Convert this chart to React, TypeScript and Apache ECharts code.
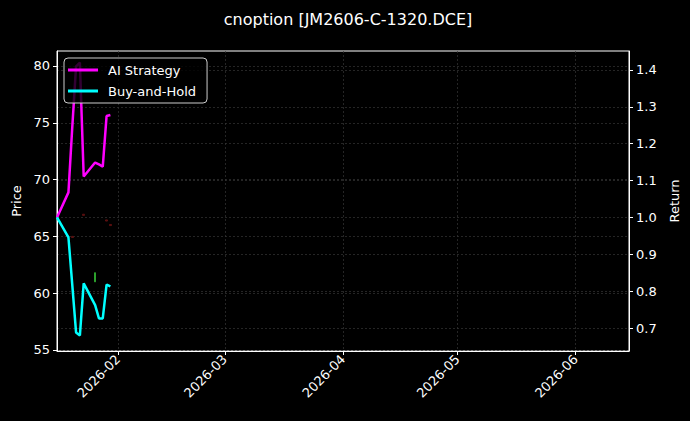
import React, { useEffect, useRef } from "react";
import * as echarts from "echarts";

const titleText = "cnoption [JM2606-C-1320.DCE]";
const dates = ["2026-01-16", "2026-01-19", "2026-01-20", "2026-01-21", "2026-01-22", "2026-01-23", "2026-01-26", "2026-01-27", "2026-01-28", "2026-01-29", "2026-01-30"];
const aiStrategy = [1.0, 1.068, 1.244, 1.41, 1.42, 1.111, 1.149, 1.144, 1.138, 1.275, 1.278];
const buyHold = [1.0, 0.946, 0.818, 0.688, 0.68, 0.821, 0.762, 0.726, 0.726, 0.818, 0.813];
// candles: [date, open, close, low, high]
const candleDates = ["2026-01-20", "2026-01-23", "2026-01-26", "2026-01-29", "2026-01-30"];
const candleOpen = [65.0, 66.95, 61.0, 66.45, 66.05];
const candleClose = [64.9, 66.85, 61.8, 66.35, 65.95];
const candleLow = [64.9, 66.85, 61.0, 66.35, 65.95];
const candleHigh = [65.0, 66.95, 61.8, 66.45, 66.05];
const monthTicks = ["2026-02-01", "2026-03-01", "2026-04-01", "2026-05-01", "2026-06-01"];
const priceTicks = [55, 60, 65, 70, 75, 80];
const returnTicks = [0.7, 0.8, 0.9, 1.0, 1.1, 1.2, 1.3, 1.4];

const toTs = (s: string) => {
  const [y, m, d] = s.split("-").map(Number);
  return new Date(y, m - 1, d).getTime();
};

const FONT = "DejaVu Sans";
const grid = { color: "#353535", type: [2, 2] as any, width: 0.7 };

export default function App() {
  const ref = useRef<HTMLDivElement>(null);
  useEffect(() => {
    document.body.style.margin = "0";
    document.body.style.background = "#000";
    const chart = echarts.init(ref.current!, null, { renderer: "svg" });
    const tickTs = monthTicks.map(toTs);
    chart.setOption({
      animation: false,
      backgroundColor: "#000",
      textStyle: { fontFamily: FONT },
      title: {
        text: titleText,
        left: 343,
        textAlign: "center",
        top: 6,
        textStyle: { color: "#fff", fontSize: 16, fontWeight: "normal", fontFamily: FONT },
      },
      legend: {
        data: ["AI Strategy", "Buy-and-Hold"],
        orient: "vertical",
        left: 64,
        top: 58,
        padding: [4, 11, 4, 4],
        itemWidth: 30,
        itemHeight: 3,
        itemGap: 5,
        icon: "rect",
        backgroundColor: "rgba(0,0,0,0.8)",
        borderColor: "#cccccc",
        borderWidth: 1,
        borderRadius: 4,
        textStyle: { color: "#fff", fontSize: 13, fontFamily: FONT, lineHeight: 16, padding: [0, 0, 0, 5] },
      },
      grid: {
        left: 57,
        right: 61,
        top: 51,
        bottom: 70,
        show: true,
        borderColor: "#fff",
        borderWidth: 1,
        backgroundColor: "#000",
      },
      xAxis: {
        type: "value",
        min: toTs("2026-01-16"),
        max: toTs("2026-06-15"),
        axisLine: { lineStyle: { color: "#fff" } },
        axisTick: { show: true, length: 4, lineStyle: { color: "#fff" }, customValues: tickTs },
        axisLabel: {
          customValues: tickTs,
          color: "#fff",
          fontSize: 13,
          fontFamily: FONT,
          rotate: 45,
          margin: 6,
          formatter: (v: number) => {
            const d = new Date(v);
            return d.getFullYear() + "-" + String(d.getMonth() + 1).padStart(2, "0");
          },
        },
        splitLine: { show: true, lineStyle: grid },
      },
      yAxis: [
        {
          type: "value",
          name: "Price",
          nameLocation: "middle",
          nameGap: 34,
          nameTextStyle: { color: "#fff", fontSize: 13, fontFamily: FONT },
          min: 54.91,
          max: 81.32,
          axisLine: { show: true, lineStyle: { color: "#fff" } },
          axisTick: { show: true, length: 4, lineStyle: { color: "#fff" }, customValues: priceTicks },
          axisLabel: { customValues: priceTicks, color: "#fff", fontSize: 13, fontFamily: FONT, margin: 7 },
          splitLine: { show: true, lineStyle: grid },
        },
        {
          type: "value",
          name: "Return",
          nameLocation: "middle",
          nameGap: 38,
          nameTextStyle: { color: "#fff", fontSize: 13, fontFamily: FONT },
          min: 0.6377,
          max: 1.4515,
          position: "right",
          axisLine: { show: true, lineStyle: { color: "#fff" } },
          axisTick: { show: true, length: 4, lineStyle: { color: "#fff" }, customValues: returnTicks },
          axisLabel: {
            customValues: returnTicks,
            color: "#fff",
            fontSize: 13,
            fontFamily: FONT,
            margin: 7,
            formatter: (v: number) => v.toFixed(1),
          },
          splitLine: { show: true, lineStyle: grid },
        },
      ],
      series: [
        {
          name: "Price",
          type: "candlestick",
          yAxisIndex: 0,
          barWidth: 2,
          itemStyle: {
            color: "#2ca02c",
            color0: "#5a1010",
            borderColor: "#2ca02c",
            borderColor0: "#5a1010",
            borderWidth: 1,
          },
          data: candleDates.map((d, i) => [toTs(d), candleOpen[i], candleClose[i], candleLow[i], candleHigh[i]]),
        },
        {
          name: "AI Strategy",
          type: "line",
          yAxisIndex: 1,
          showSymbol: false,
          color: "#ff00ff",
          lineStyle: { width: 2.5, color: "#ff00ff" },
          data: dates.map((d, i) => [toTs(d), aiStrategy[i]]),
        },
        {
          name: "Buy-and-Hold",
          type: "line",
          yAxisIndex: 1,
          showSymbol: false,
          color: "#00ffff",
          lineStyle: { width: 2.5, color: "#00ffff" },
          data: dates.map((d, i) => [toTs(d), buyHold[i]]),
        },
      ],
    });
    return () => chart.dispose();
  }, []);
  return <div ref={ref} style={{ width: 690, height: 421 }} />;
}
